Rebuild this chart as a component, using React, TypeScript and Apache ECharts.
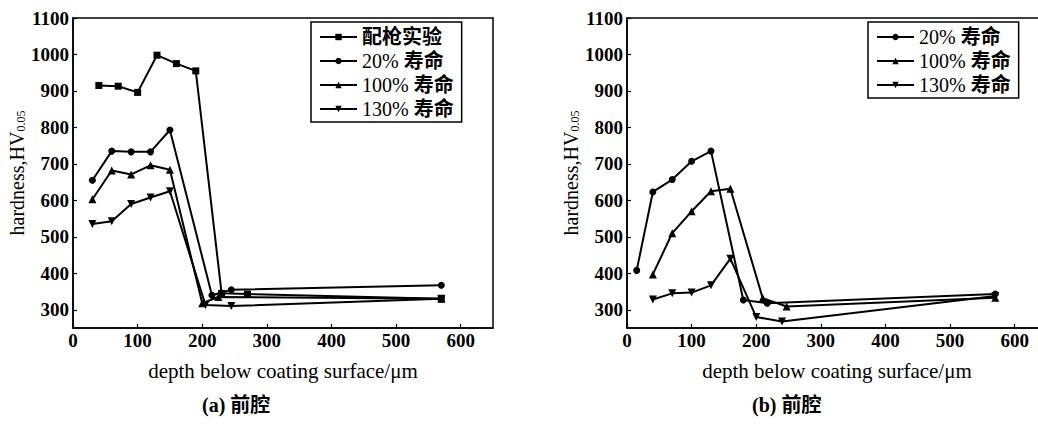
import React, { useEffect, useRef } from "react";
import * as echarts from "echarts";

// ---------- data ----------
const xTicks = [0, 100, 200, 300, 400, 500, 600];
const yTicks = [300, 400, 500, 600, 700, 800, 900, 1000, 1100];

// (a) left chart
const aGunX = [40, 70, 100, 130, 160, 190, 230, 270, 570];
const aGunY = [915, 913, 896, 998, 975, 955, 345, 343, 330];
const a20X = [30, 60, 90, 120, 150, 215, 245, 570];
const a20Y = [655, 735, 733, 733, 793, 340, 355, 367];
const a100X = [30, 60, 90, 120, 150, 200, 225, 570];
const a100Y = [603, 682, 671, 696, 684, 318, 335, 330];
const a130X = [30, 60, 90, 120, 150, 205, 245, 570];
const a130Y = [535, 543, 590, 608, 625, 313, 310, 330];

// (b) right chart
const b20X = [15, 40, 70, 100, 130, 180, 217, 570];
const b20Y = [408, 623, 657, 707, 735, 327, 318, 343];
const b100X = [40, 70, 100, 130, 160, 210, 247, 570];
const b100Y = [397, 510, 570, 625, 632, 332, 309, 333];
const b130X = [40, 70, 100, 130, 160, 200, 240, 570];
const b130Y = [328, 345, 347, 367, 440, 280, 268, 338];

const nameGun = "配枪实验";
const name20 = "20% 寿命";
const name100 = "100% 寿命";
const name130 = "130% 寿命";
const captionA = "(a) 前腔";
const captionB = "(b) 前腔";
const xName = "depth below coating surface/μm";

const FONT = '"Liberation Serif", "Noto Sans CJK SC", serif';
const INV_TRI = "path://M0,0 L10,0 L5,9 Z";

const pairs = (xs: number[], ys: number[]) => xs.map((x, i) => [x, ys[i]]);

export default function App() {
  const ref = useRef<HTMLDivElement>(null);
  useEffect(() => {
    if (!ref.current) return;
    const chart = echarts.init(ref.current, undefined, { renderer: "svg" });

    const gridBase = {
      top: 18,
      width: 420,
      height: 310,
      show: true,
      borderColor: "#000",
      borderWidth: 1.5,
      backgroundColor: "transparent",
    };

    const mkX = (idx: number) => ({
      type: "value",
      gridIndex: idx,
      min: 0,
      max: 650,
      name: xName,
      nameLocation: "middle",
      nameGap: 32,
      nameTextStyle: { fontFamily: FONT, fontSize: 21, color: "#000" },
      axisLine: { show: true, lineStyle: { color: "#000", width: 1.5 } },
      axisTick: { show: true, inside: true, length: 4, customValues: xTicks, lineStyle: { color: "#000", width: 1.2 } },
      axisLabel: {
        customValues: xTicks,
        margin: 3,
        fontFamily: FONT,
        fontSize: 19,
        fontWeight: "bold",
        color: "#000",
        formatter: (v: number) => String(v),
      },
      splitLine: { show: false },
    });

    const mkY = (idx: number) => ({
      type: "value",
      gridIndex: idx,
      min: 250,
      max: 1100,
      name: "hardness,HV{s|0.05}",
      nameLocation: "middle",
      nameGap: 46,
      nameTextStyle: {
        fontFamily: FONT,
        fontSize: 20,
        color: "#000",
        rich: { s: { fontFamily: FONT, fontSize: 12, color: "#000", padding: [7, 0, 0, 0] } },
      },
      axisLine: { show: true, lineStyle: { color: "#000", width: 1.5 } },
      axisTick: { show: true, inside: true, length: 4, customValues: yTicks, lineStyle: { color: "#000", width: 1.2 } },
      axisLabel: {
        customValues: yTicks,
        margin: 4,
        fontFamily: FONT,
        fontSize: 19,
        fontWeight: "bold",
        color: "#000",
        formatter: (v: number) => String(v),
      },
      splitLine: { show: false },
    });

    const mkS = (name: string, xs: number[], ys: number[], idx: number, symbol: string, size: number) => ({
      type: "line",
      name,
      xAxisIndex: idx,
      yAxisIndex: idx,
      data: pairs(xs, ys),
      symbol,
      symbolSize: size,
      showSymbol: true,
      lineStyle: { color: "#000", width: 2 },
      itemStyle: { color: "#000" },
      emphasis: { disabled: true },
    });

    const legendBase = {
      orient: "vertical",
      borderColor: "#000",
      borderWidth: 1.5,
      padding: [5, 8, 3, 8],
      itemGap: 4,
      itemWidth: 37,
      itemHeight: 8,
      formatter: (n: string) => n.replace(/([\u4e00-\u9fff]+)/, "{c|$1}"),
      textStyle: {
        fontFamily: FONT,
        fontSize: 20,
        color: "#000",
        rich: { c: { fontFamily: FONT, fontSize: 20, fontWeight: "bold", color: "#000" } },
      },
      selectedMode: false,
    };

    chart.setOption({
      animation: false,
      grid: [
        { ...gridBase, left: 73 },
        { ...gridBase, left: 627 },
      ],
      xAxis: [mkX(0), mkX(1)],
      yAxis: [mkY(0), mkY(1)],
      legend: [
        { ...legendBase, left: 311, top: 22, data: [nameGun, name20, name100, name130] },
        { ...legendBase, left: 868, top: 22, data: [name20, name100, name130] },
      ],
      series: [
        mkS(nameGun, aGunX, aGunY, 0, "rect", 7),
        mkS(name20, a20X, a20Y, 0, "circle", 7),
        mkS(name100, a100X, a100Y, 0, "triangle", 8),
        mkS(name130, a130X, a130Y, 0, INV_TRI, 8),
        mkS(name20, b20X, b20Y, 1, "circle", 7),
        mkS(name100, b100X, b100Y, 1, "triangle", 8),
        mkS(name130, b130X, b130Y, 1, INV_TRI, 8),
      ],
      graphic: [
        {
          type: "text",
          left: 202,
          top: 395,
          style: { text: captionA, fontFamily: FONT, fontSize: 20, fontWeight: "bold", fill: "#000" },
        },
        {
          type: "text",
          left: 752,
          top: 395,
          style: { text: captionB, fontFamily: FONT, fontSize: 20, fontWeight: "bold", fill: "#000" },
        },
      ],
    });
    return () => chart.dispose();
  }, []);

  return (
    <div
      ref={ref}
      style={{ position: "fixed", left: 0, top: 0, width: 1060, height: 424, background: "#fff" }}
    />
  );
}
